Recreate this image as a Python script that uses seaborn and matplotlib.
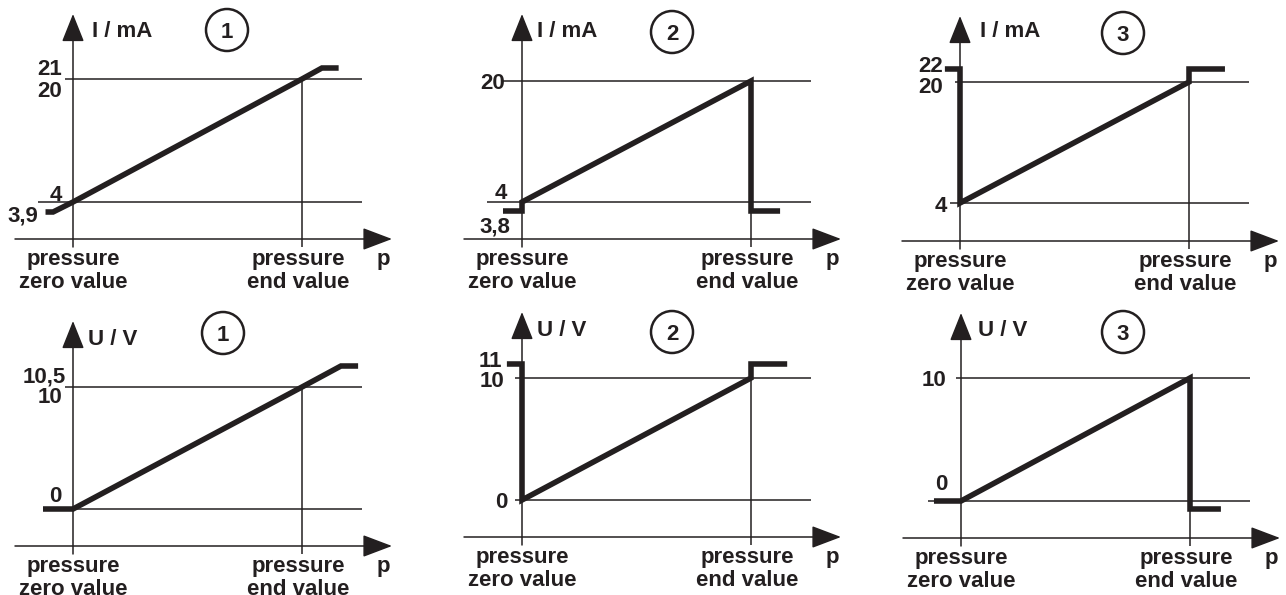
import numpy as np
import matplotlib
matplotlib.use('Agg')
import matplotlib.pyplot as plt
import matplotlib.patches as mpatches
import seaborn as sns

# Output characteristics, x = pressure (0 = zero value, 1 = end value)
i1_p = [-0.12, -0.087, 0, 1, 1.087, 1.16]
i1_val = [3.9, 3.9, 4, 20, 21, 21]
i2_p = [-0.083, 0, 0, 1, 1, 1.127]
i2_val = [3.8, 3.8, 4, 20, 3.8, 3.8]
i3_p = [-0.066, 0, 0, 1, 1, 1.157]
i3_val = [22, 22, 4, 20, 22, 22]
u1_p = [-0.131, 0, 1, 1.17, 1.245]
u1_val = [0, 0, 10, 10.5, 10.5]
u2_p = [-0.066, 0, 0, 1, 1, 1.158]
u2_val = [11, 11, 0, 10, 11, 11]
u3_p = [-0.118, 0, 1, 1, 1.135]
u3_val = [0, 0, 10, -0.5, -0.5]

# levels marked on the y axes
i1_ticks = [3.9, 4, 20, 21]
i1_labels = ['3,9', '4', '20', '21']
i2_ticks = [3.8, 4, 20]
i2_labels = ['3,8', '4', '20']
i3_ticks = [4, 20, 22]
i3_labels = ['4', '20', '22']
u1_ticks = [0, 10, 10.5]
u1_labels = ['0', '10', '10,5']
u2_ticks = [0, 10, 11]
u2_labels = ['0', '10', '11']
u3_ticks = [-0.5, 0, 10]
u3_labels = ['', '0', '10']

i_grid = [4, 20]
u_grid = [0, 10]

W, H = 1286, 595
S = 229.0          # px between zero and end value
ink = '#231f20'
fs = 16

# layout of each panel (pixels of the 1286x595 picture)
panels = [
    dict(p=i1_p, v=i1_val, ticks=i1_ticks, labels=i1_labels, grid=i_grid, unit='I / mA', no='1',
         x0=73, yb=239, hts=[27, 37, 160, 171], cell=(0, 0, 429, 298),
         off=[(-35, -2), (-11, 9), (-11, -10), (-11, 1)], gfrom=[-35, -8],
         unit_at=(19, 202), circ=(227, 30)),
    dict(p=i2_p, v=i2_val, ticks=i2_ticks, labels=i2_labels, grid=i_grid, unit='I / mA', no='2',
         x0=522, yb=239, hts=[28, 37, 158], cell=(429, 0, 858, 298),
         off=[(-12, -14), (-15, 11), (-17, 0)], gfrom=[-35, -19],
         unit_at=(15, 202), circ=(672, 32)),
    dict(p=i3_p, v=i3_val, ticks=i3_ticks, labels=i3_labels, grid=i_grid, unit='I / mA', no='3',
         x0=960, yb=241, hts=[38, 159, 172], cell=(858, 0, 1286, 298),
         off=[(-13, -1), (-17, -3), (-17, 5)], gfrom=[-10, -5],
         unit_at=(20, 204), circ=(1123, 33)),
    dict(p=u1_p, v=u1_val, ticks=u1_ticks, labels=u1_labels, grid=u_grid, unit='U / V', no='1',
         x0=73, yb=546, hts=[37, 159, 180], cell=(0, 298, 429, 595),
         off=[(-11, 15), (-11, -8), (-7, -9)], gfrom=[-30, -8],
         unit_at=(15, 201), circ=(223, 333)),
    dict(p=u2_p, v=u2_val, ticks=u2_ticks, labels=u2_labels, grid=u_grid, unit='U / V', no='2',
         x0=522, yb=537, hts=[37, 159, 173], cell=(429, 298, 858, 595),
         off=[(-15, 0), (-18, -1), (-20, 5)], gfrom=[-7, -7],
         unit_at=(15, 201), circ=(672, 332)),
    dict(p=u3_p, v=u3_val, ticks=u3_ticks, labels=u3_labels, grid=u_grid, unit='U / V', no='3',
         x0=961, yb=538, hts=[29, 37, 160], cell=(858, 298, 1286, 595),
         off=[(0, 0), (-13, 19), (-15, 0)], gfrom=[-33, -5],
         unit_at=(17, 202), circ=(1123, 332)),
]


def build_scale(vals, hts):
    # piecewise linear value -> height mapping (schematic, not to scale)
    v = np.asarray(vals, float)
    h = np.asarray(hts, float)
    v = np.r_[v[0] - 100 * (v[1] - v[0]), v, v[-1] + 100 * (v[-1] - v[-2])]
    h = np.r_[h[0] - 100 * (h[1] - h[0]), h, h[-1] + 100 * (h[-1] - h[-2])]
    return (lambda y: np.interp(y, v, h)), (lambda q: np.interp(q, h, v))


def ftext(x, y, s, **kw):
    fig.text(x / W, 1 - y / H, s, fontsize=fs, fontweight='bold', color=ink, **kw)


sns.set_theme(style='white')
plt.rcParams['font.family'] = ['Liberation Sans', 'DejaVu Sans']

fig = plt.figure(figsize=(W / 100, H / 100), dpi=100)

for pn in panels:
    cl, ct, cr, cb = pn['cell']
    x0, yb = pn['x0'], pn['yb']
    ax = fig.add_axes([cl / W, 1 - cb / H, (cr - cl) / W, (cb - ct) / H])
    fwd, inv = build_scale(pn['ticks'], pn['hts'])
    ax.set_yscale('function', functions=(fwd, inv))

    # thin reference lines
    for g, gf in zip(pn['grid'], pn['gfrom']):
        ax.hlines(g, gf / S, 289 / S, color=ink, lw=1.1)
    ax.vlines(1, inv(-8), pn['grid'][1], color=ink, lw=1.1)

    # axes with arrow heads
    ax.annotate('', xy=(0, inv(225)), xytext=(0, inv(-8)),
                arrowprops=dict(arrowstyle='-|>,head_length=1.75,head_width=0.7',
                                mutation_scale=10, color=ink, lw=1.1, shrinkA=0, shrinkB=0))
    ax.annotate('', xy=(319 / S, inv(0)), xytext=(-58 / S, inv(0)),
                arrowprops=dict(arrowstyle='-|>,head_length=1.85,head_width=0.7',
                                mutation_scale=10, color=ink, lw=1.1, shrinkA=0, shrinkB=0))

    # output characteristic
    sns.lineplot(x=pn['p'], y=pn['v'], estimator=None, sort=False, color=ink, lw=4,
                 solid_capstyle='butt', solid_joinstyle='miter', ax=ax, zorder=3)

    for t, lab, (dx, dy) in zip(pn['ticks'], pn['labels'], pn['off']):
        if lab:
            ax.annotate(lab, xy=(0, t), xytext=(dx, dy - 7.7), textcoords='offset pixels',
                        ha='right', va='baseline', fontsize=fs, fontweight='bold', color=ink)

    ax.set_xlim((cl - x0) / S, (cr - x0) / S)
    ax.set_ylim(inv(yb - cb), inv(yb - ct))
    ax.axis('off')

    # texts around the diagram
    ux, uh = pn['unit_at']
    ftext(x0 + ux, yb - uh, pn['unit'], ha='left', va='baseline')
    ftext(x0, yb + 26, 'pressure', ha='center', va='baseline')
    ftext(x0, yb + 49, 'zero value', ha='center', va='baseline')
    ftext(x0 + S - 4, yb + 26, 'pressure', ha='center', va='baseline')
    ftext(x0 + S - 4, yb + 49, 'end value', ha='center', va='baseline')
    ftext(x0 + 310, yb + 26, 'p', ha='center', va='baseline')

    cx, cy = pn['circ']
    fig.add_artist(mpatches.Circle((cx / 100, (H - cy) / 100), 0.21, transform=fig.dpi_scale_trans,
                                   fill=False, lw=1.8, ec=ink))
    ftext(cx, cy + 8, pn['no'], ha='center', va='baseline')

fig.savefig('out.png', dpi=100, facecolor='white')
